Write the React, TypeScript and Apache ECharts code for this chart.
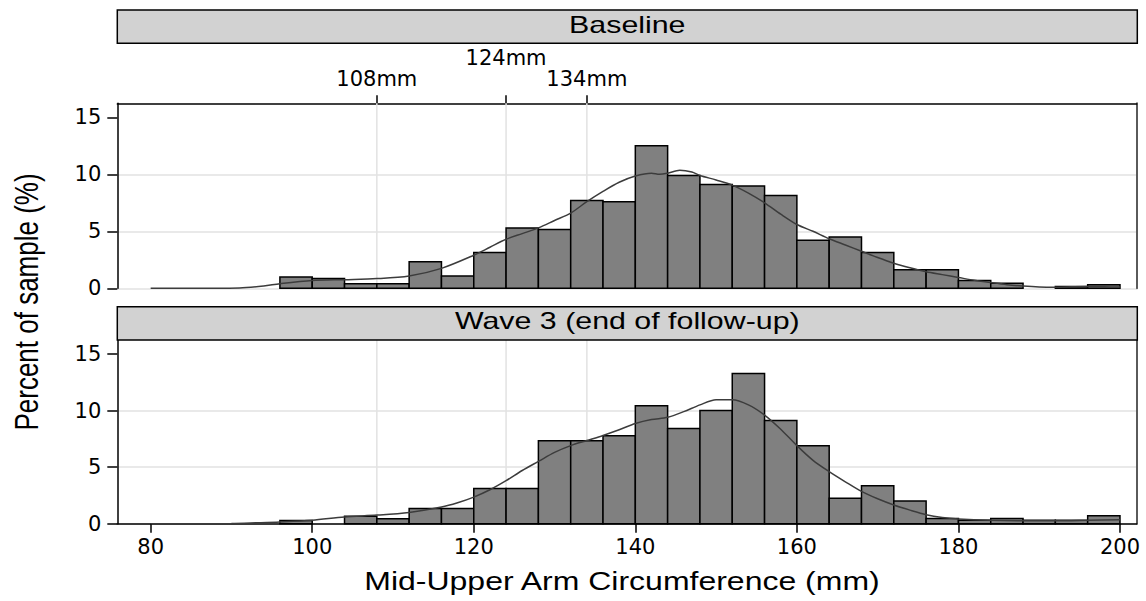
import React, { useEffect, useRef } from "react";
import * as echarts from "echarts";

// ---------- data ----------
const binStarts = [96, 100, 104, 108, 112, 116, 120, 124, 128, 132, 136, 140, 144, 148, 152, 156, 160, 164, 168, 172, 176, 180, 184, 188, 192, 196];
const binWidth = 4;
const baselinePct = [1.0, 0.85, 0.41, 0.41, 2.32, 1.09, 3.15, 5.29, 5.15, 7.7, 7.6, 12.5, 9.9, 9.1, 8.97, 8.15, 4.21, 4.5, 3.15, 1.62, 1.62, 0.68, 0.44, 0, 0.15, 0.32];
const wave3Pct = [0.29, 0, 0.65, 0.44, 1.35, 1.35, 3.12, 3.12, 7.32, 7.32, 7.76, 10.41, 8.41, 10.0, 13.26, 9.12, 6.88, 2.24, 3.35, 2.0, 0.47, 0.3, 0.47, 0.3, 0.3, 0.7];

const baselineDensX = [80, 84, 88, 91, 94, 96, 100, 104, 108, 112, 116, 120, 122, 124, 126, 128, 130, 132, 134, 136, 138, 140, 142, 143, 144, 145.5, 147, 148, 150, 152, 154, 156, 158, 160, 162, 164, 166, 168, 170, 172, 174, 176, 178, 180, 182, 184, 186, 188, 190, 192, 194, 196, 198, 200];
const baselineDensY = [0, 0, 0, 0.02, 0.2, 0.4, 0.68, 0.76, 0.85, 1.08, 1.75, 2.9, 3.6, 4.3, 4.8, 5.3, 5.95, 6.6, 7.6, 8.5, 9.3, 9.85, 10.1, 10.0, 10.1, 10.35, 10.2, 9.9, 9.5, 9.05, 8.35, 7.5, 6.5, 5.6, 5.0, 4.35, 3.8, 3.25, 2.7, 2.2, 1.8, 1.45, 1.2, 0.95, 0.7, 0.5, 0.32, 0.2, 0.12, 0.1, 0.13, 0.15, 0.13, 0.12];

const wave3DensX = [80, 86, 90, 93, 96, 100, 104, 108, 112, 116, 118, 120, 122, 124, 126, 128, 130, 132, 134, 136, 138, 140, 142, 144, 146, 148, 150, 152, 154, 156, 158, 160, 162, 164, 166, 168, 170, 172, 174, 176, 178, 180, 184, 188, 192, 196, 200];
const wave3DensY = [0, 0, 0.02, 0.08, 0.15, 0.3, 0.6, 0.76, 1.0, 1.47, 1.85, 2.35, 3.0, 3.8, 4.7, 5.5, 6.3, 6.9, 7.35, 7.8, 8.3, 8.85, 9.2, 9.4, 9.9, 10.5, 10.95, 10.95, 10.5, 9.6, 8.35, 6.9, 5.6, 4.6, 3.7, 2.85, 2.2, 1.65, 1.2, 0.8, 0.55, 0.42, 0.3, 0.26, 0.26, 0.3, 0.35];

const refLines = [108, 124, 134];
const refLabels = ["108mm", "124mm", "134mm"];
const xTicks = [80, 100, 120, 140, 160, 180, 200];
const yTicks = [0, 5, 10, 15];
const panelTitles = ["Baseline", "Wave 3 (end of follow-up)"];
const xTitle = "Mid-Upper Arm Circumference (mm)";
const yTitle = "Percent of sample (%)";

// ---------- layout ----------
const X_MIN = 75.87;
const X_MAX = 202.07;
const Y_MAX = 16.23;
const TICK_FONT = "DejaVu Sans";
const TITLE_FONT = "Liberation Sans";
const GRID_COLOR = "#e2e2e2";

export default function App() {
  const ref = useRef<HTMLDivElement>(null);

  useEffect(() => {
    if (!ref.current) return;
    const chart = echarts.init(ref.current, undefined, { renderer: "svg" });

    const histData = (vals: number[]) => binStarts.map((s, i) => [s, s + binWidth, vals[i]]);
    const densData = (xs: number[], ys: number[]) => xs.map((x, i) => [x, ys[i]]);

    const renderBar = (params: any, api: any) => {
      const x0 = api.value(0);
      const x1 = api.value(1);
      const v = api.value(2);
      if (!v) return { type: "group", children: [] };
      const p0 = api.coord([x0, v]);
      const p1 = api.coord([x1, 0]);
      return {
        type: "rect",
        shape: { x: p0[0], y: p0[1], width: p1[0] - p0[0], height: p1[1] - p0[1] },
        style: { fill: "#808080", stroke: "#000000", lineWidth: 1.5 },
      };
    };

    const renderVLine = (params: any, api: any) => {
      const v = api.value(0);
      const a = api.coord([v, 0]);
      const b = api.coord([v, Y_MAX]);
      return {
        type: "line",
        shape: { x1: a[0], y1: a[1], x2: b[0], y2: b[1] },
        style: { stroke: GRID_COLOR, lineWidth: 1.5 },
      };
    };

    const tickLabelStyle = { fontFamily: TICK_FONT, fontSize: 21, color: "#000" };

    const yAxisLeft = (gi: number) => ({
      type: "value",
      gridIndex: gi,
      position: "left",
      min: 0,
      max: Y_MAX,
      interval: 5,
      axisLine: { show: true, onZero: false, lineStyle: { color: "#000", width: 1.5 } },
      axisTick: { show: true, length: 10, customValues: yTicks, lineStyle: { color: "#000", width: 1.5 } },
      axisLabel: { ...tickLabelStyle, margin: 16, customValues: yTicks },
      splitLine: { show: true, showMaxLine: false, lineStyle: { color: GRID_COLOR, width: 1.5 } },
    });

    const yAxisRight = (gi: number) => ({
      type: "value",
      gridIndex: gi,
      position: "right",
      min: 0,
      max: Y_MAX,
      axisLine: { show: true, onZero: false, lineStyle: { color: "#5a5a5a", width: 2 } },
      axisTick: { show: false },
      axisLabel: { show: false },
      splitLine: { show: false },
    });

    const panelSeries = (gi: number, pct: number[], dx: number[], dy: number[]) => [
      {
        type: "custom",
        xAxisIndex: gi,
        yAxisIndex: gi,
        z: 1,
        silent: true,
        renderItem: renderVLine,
        encode: { x: 0 },
        data: refLines.map((v) => [v]),
      },
      {
        type: "custom",
        xAxisIndex: gi,
        yAxisIndex: gi,
        z: 2,
        renderItem: renderBar,
        encode: { x: [0, 1], y: 2 },
        data: histData(pct),
      },
      {
        type: "line",
        xAxisIndex: gi,
        yAxisIndex: gi,
        z: 3,
        showSymbol: false,
        smooth: 0.3,
        lineStyle: { color: "#3c3c3c", width: 1.5 },
        data: densData(dx, dy),
      },
    ];

    const titleStyle = (text: string, size: number) => ({
      text,
      fontFamily: TITLE_FONT,
      fontSize: size,
      fill: "#000",
      align: "center",
      verticalAlign: "middle",
      textAlign: "center",
      textVerticalAlign: "middle",
    });

    chart.setOption({
      animation: false,
      backgroundColor: "#ffffff",
      grid: [
        { left: 117.3, top: 103.3, width: 1019.4, height: 185 },
        { left: 117.3, top: 340, width: 1019.4, height: 183.7 },
      ],
      xAxis: [
        {
          type: "value",
          gridIndex: 0,
          position: "top",
          min: X_MIN,
          max: X_MAX,
          axisLine: { show: true, onZero: false, lineStyle: { color: "#000", width: 1.5 } },
          axisTick: { show: true, length: 8, customValues: refLines, lineStyle: { color: "#000", width: 1.5 } },
          axisLabel: {
            ...tickLabelStyle,
            margin: 14,
            customValues: refLines,
            formatter: (v: number) => {
              const i = refLines.indexOf(v);
              const t = i >= 0 ? refLabels[i] : "";
              return i === 1 ? "{up|" + t + "}" : t;
            },
            rich: { up: { fontFamily: TICK_FONT, fontSize: 21, color: "#000", padding: [0, 0, 21, 0] } },
          },
          splitLine: { show: false },
        },
        {
          type: "value",
          gridIndex: 1,
          position: "bottom",
          min: X_MIN,
          max: X_MAX,
          axisLine: { show: true, onZero: false, lineStyle: { color: "#000", width: 1.5 } },
          axisTick: { show: true, length: 9, customValues: xTicks, lineStyle: { color: "#000", width: 1.5 } },
          axisLabel: { ...tickLabelStyle, margin: 13, customValues: xTicks },
          splitLine: { show: false },
        },
      ],
      yAxis: [yAxisLeft(0), yAxisLeft(1), yAxisRight(0), yAxisRight(1)],
      series: [
        ...panelSeries(0, baselinePct, baselineDensX, baselineDensY),
        ...panelSeries(1, wave3Pct, wave3DensX, wave3DensY),
      ],
      graphic: [
        {
          type: "rect",
          z: 10,
          shape: { x: 117.3, y: 10, width: 1020, height: 33.3 },
          style: { fill: "#d2d2d2", stroke: "#000", lineWidth: 1.5 },
        },
        {
          type: "rect",
          z: 10,
          shape: { x: 117.3, y: 306.7, width: 1020, height: 33.3 },
          style: { fill: "#d2d2d2", stroke: "#000", lineWidth: 1.5 },
        },
        { type: "text", z: 11, x: 627.3, y: 25.5, scaleX: 1.32, style: titleStyle(panelTitles[0], 23) },
        { type: "text", z: 11, x: 627.3, y: 321, scaleX: 1.32, style: titleStyle(panelTitles[1], 23) },
        { type: "text", z: 11, x: 622, y: 581, scaleX: 1.28, style: titleStyle(xTitle, 25) },
        {
          type: "text",
          z: 11,
          x: 26,
          y: 302,
          rotation: Math.PI / 2,
          scaleY: 1.25,
          style: titleStyle(yTitle, 26),
        },
      ],
    });

    return () => chart.dispose();
  }, []);

  return <div ref={ref} style={{ position: "absolute", left: 0, top: 0, width: 1146, height: 601 }} />;
}
